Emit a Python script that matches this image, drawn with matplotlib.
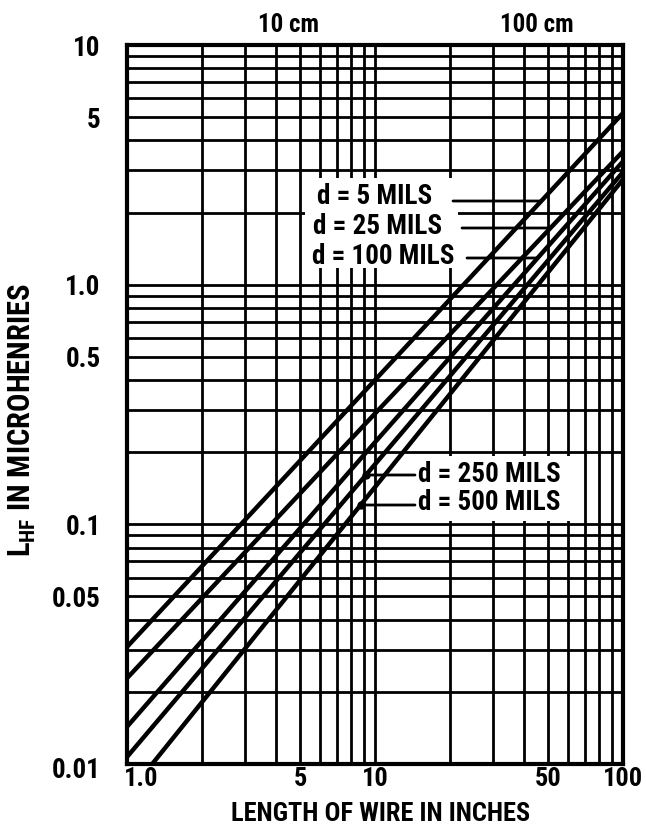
import numpy as np
import matplotlib
matplotlib.use('Agg')
import matplotlib.pyplot as plt
from matplotlib import font_manager as fm
from matplotlib.patches import Rectangle
from matplotlib.transforms import ScaledTranslation
from matplotlib.ticker import NullFormatter

# ---------------- data ----------------
length_in = [1, 10, 100]                         # length of wire, inches
L_d5   = [0.0308, 0.40, 5.2]                     # microhenries
L_d25  = [0.0228, 0.29, 3.6]
L_d100 = [0.0143, 0.22, 3.27]
L_d250 = [0.0107, 0.178, 2.95]
L_d500 = [0.0074, 0.143, 2.75]
series_labels = ['d = 5 MILS', 'd = 25 MILS', 'd = 100 MILS',
                 'd = 250 MILS', 'd = 500 MILS']

x_ticks = [1, 5, 10, 50, 100]
x_ticklabels = ['1.0', '5', '10', '50', '100']
y_ticks = [0.01, 0.05, 0.1, 0.5, 1, 5, 10]
y_ticklabels = ['0.01', '0.05', '0.1', '0.5', '1.0', '5', '10']
cm_ticks = [10, 100]
cm_ticklabels = ['10 cm', '100 cm']

# ---------------- fonts ----------------
names = {f.name for f in fm.fontManager.ttflist}
MAIN = 'DejaVu Sans'
for cand in ['Roboto Condensed', 'PT Sans Narrow', 'Open Sans Condensed', 'IBM Plex Sans Condensed']:
    if cand in names:
        MAIN = cand
        break
FAM = [MAIN, 'DejaVu Sans']
plt.rcParams['font.family'] = FAM
plt.rcParams['font.weight'] = 'bold'
plt.rcParams['mathtext.fontset'] = 'custom'
plt.rcParams['mathtext.rm'] = MAIN + ':bold'
plt.rcParams['mathtext.it'] = MAIN + ':bold'
plt.rcParams['mathtext.bf'] = MAIN + ':bold'

W, H = 646, 839
fig = plt.figure(figsize=(W / 100, H / 100), dpi=100)
L_px, R_px, T_px, B_px = 127, 623, 45, 764
ax = fig.add_axes([L_px / W, (H - B_px) / H, (R_px - L_px) / W, (B_px - T_px) / H])
ax.set_xscale('log')
ax.set_yscale('log')
ax.set_xlim(1, 100)
ax.set_ylim(0.01, 10)
ax.set_axisbelow(True)
ax.grid(True, which='both', color='black', lw=2.0)
for s in ax.spines.values():
    s.set_linewidth(3.0)
ax.tick_params(which='both', length=0)


def fx(px):
    return (px - L_px) / (R_px - L_px)


def fy(py):
    return (B_px - py) / (B_px - T_px)


ax.set_xticks(x_ticks)
ax.set_xticklabels(x_ticklabels, fontsize=19, fontweight='bold')
ax.set_yticks(y_ticks)
ax.set_yticklabels(y_ticklabels, fontsize=19.5, fontweight='bold')
ax.xaxis.set_minor_formatter(NullFormatter())
ax.yaxis.set_minor_formatter(NullFormatter())
ax.tick_params(axis='x', pad=2)
ax.tick_params(axis='y', pad=19)

for lbl in ax.get_xticklabels():
    if lbl.get_text() == '1.0':
        lbl.set_transform(lbl.get_transform() + ScaledTranslation(0.14, 0, fig.dpi_scale_trans))
for lbl in ax.get_yticklabels():
    if lbl.get_text() == '0.01':
        lbl.set_transform(lbl.get_transform() + ScaledTranslation(0, -0.04, fig.dpi_scale_trans))

ax.set_xlabel('LENGTH OF WIRE IN INCHES', fontsize=19, fontweight='bold')
ax.xaxis.set_label_coords(fx(381), fy(802))
ax.set_ylabel(r'$\mathrm{L_{HF}}$ IN MICROHENRIES', fontsize=22, fontweight='bold')
ax.yaxis.set_label_coords(fx(38), fy(420))

# top axis in centimetres
sec = ax.secondary_xaxis('top', functions=(lambda x: x * 2.54, lambda c: c / 2.54))
sec.set_xticks(cm_ticks)
sec.set_xticklabels(cm_ticklabels, fontsize=18, fontweight='bold')
sec.xaxis.set_minor_formatter(NullFormatter())
sec.tick_params(which='both', length=0, pad=6)
sec.spines['top'].set_visible(False)
for lbl in sec.get_xticklabels():
    lbl.set_transform(lbl.get_transform() + ScaledTranslation(0.14, 0, fig.dpi_scale_trans))

# curves
series = [L_d5, L_d25, L_d100, L_d250, L_d500]
for vals in series:
    ax.plot(length_in, vals, color='black', lw=3.2, zorder=3, solid_capstyle='butt')

# white label panels over the grid
ax.add_patch(Rectangle((fx(305), fy(268)), fx(458) - fx(305), fy(178) - fy(268),
                       transform=ax.transAxes, facecolor='white', edgecolor='none', zorder=2))
ax.add_patch(Rectangle((fx(413), fy(521)), fx(576) - fx(413), fy(456) - fy(521),
                       transform=ax.transAxes, facecolor='white', edgecolor='none', zorder=2))


def y_from_px(py):
    return 10 ** (-2 + 3 * fy(py))


def x_from_px(px):
    return 10 ** (2 * fx(px))


def x_on_curve(vals, yv):
    return 10 ** np.interp(np.log10(yv), np.log10(vals), np.log10(length_in))


upper = [(0, 317, 196, 453, 201), (1, 313, 227, 462, 228), (2, 312, 257, 467, 258)]
for i, tx, ty, lx, ly in upper:
    ax.text(fx(tx), fy(ty), series_labels[i], transform=ax.transAxes, fontsize=19.5,
            fontweight='bold', ha='left', va='center', zorder=5)
    yv = y_from_px(ly)
    ax.annotate('', xy=(x_on_curve(series[i], yv), yv), xytext=(x_from_px(lx), yv),
                arrowprops=dict(arrowstyle='-', lw=2.0, color='black', shrinkA=0, shrinkB=0),
                zorder=5)

lower = [(3, 418, 474, 415, 475), (4, 418, 503, 415, 505)]
for i, tx, ty, lx, ly in lower:
    ax.text(fx(tx), fy(ty), series_labels[i], transform=ax.transAxes, fontsize=19.5,
            fontweight='bold', ha='left', va='center', zorder=5)
    yv = y_from_px(ly)
    xe = x_on_curve(series[i], yv)
    ax.annotate('', xy=(xe, yv), xytext=(x_from_px(lx), yv),
                arrowprops=dict(arrowstyle='-', lw=2.0, color='black', shrinkA=0, shrinkB=0),
                zorder=5)
    ax.plot([xe], [yv], 'o', color='black', ms=5, zorder=5)

fig.savefig('out.png', dpi=100, facecolor='white')
